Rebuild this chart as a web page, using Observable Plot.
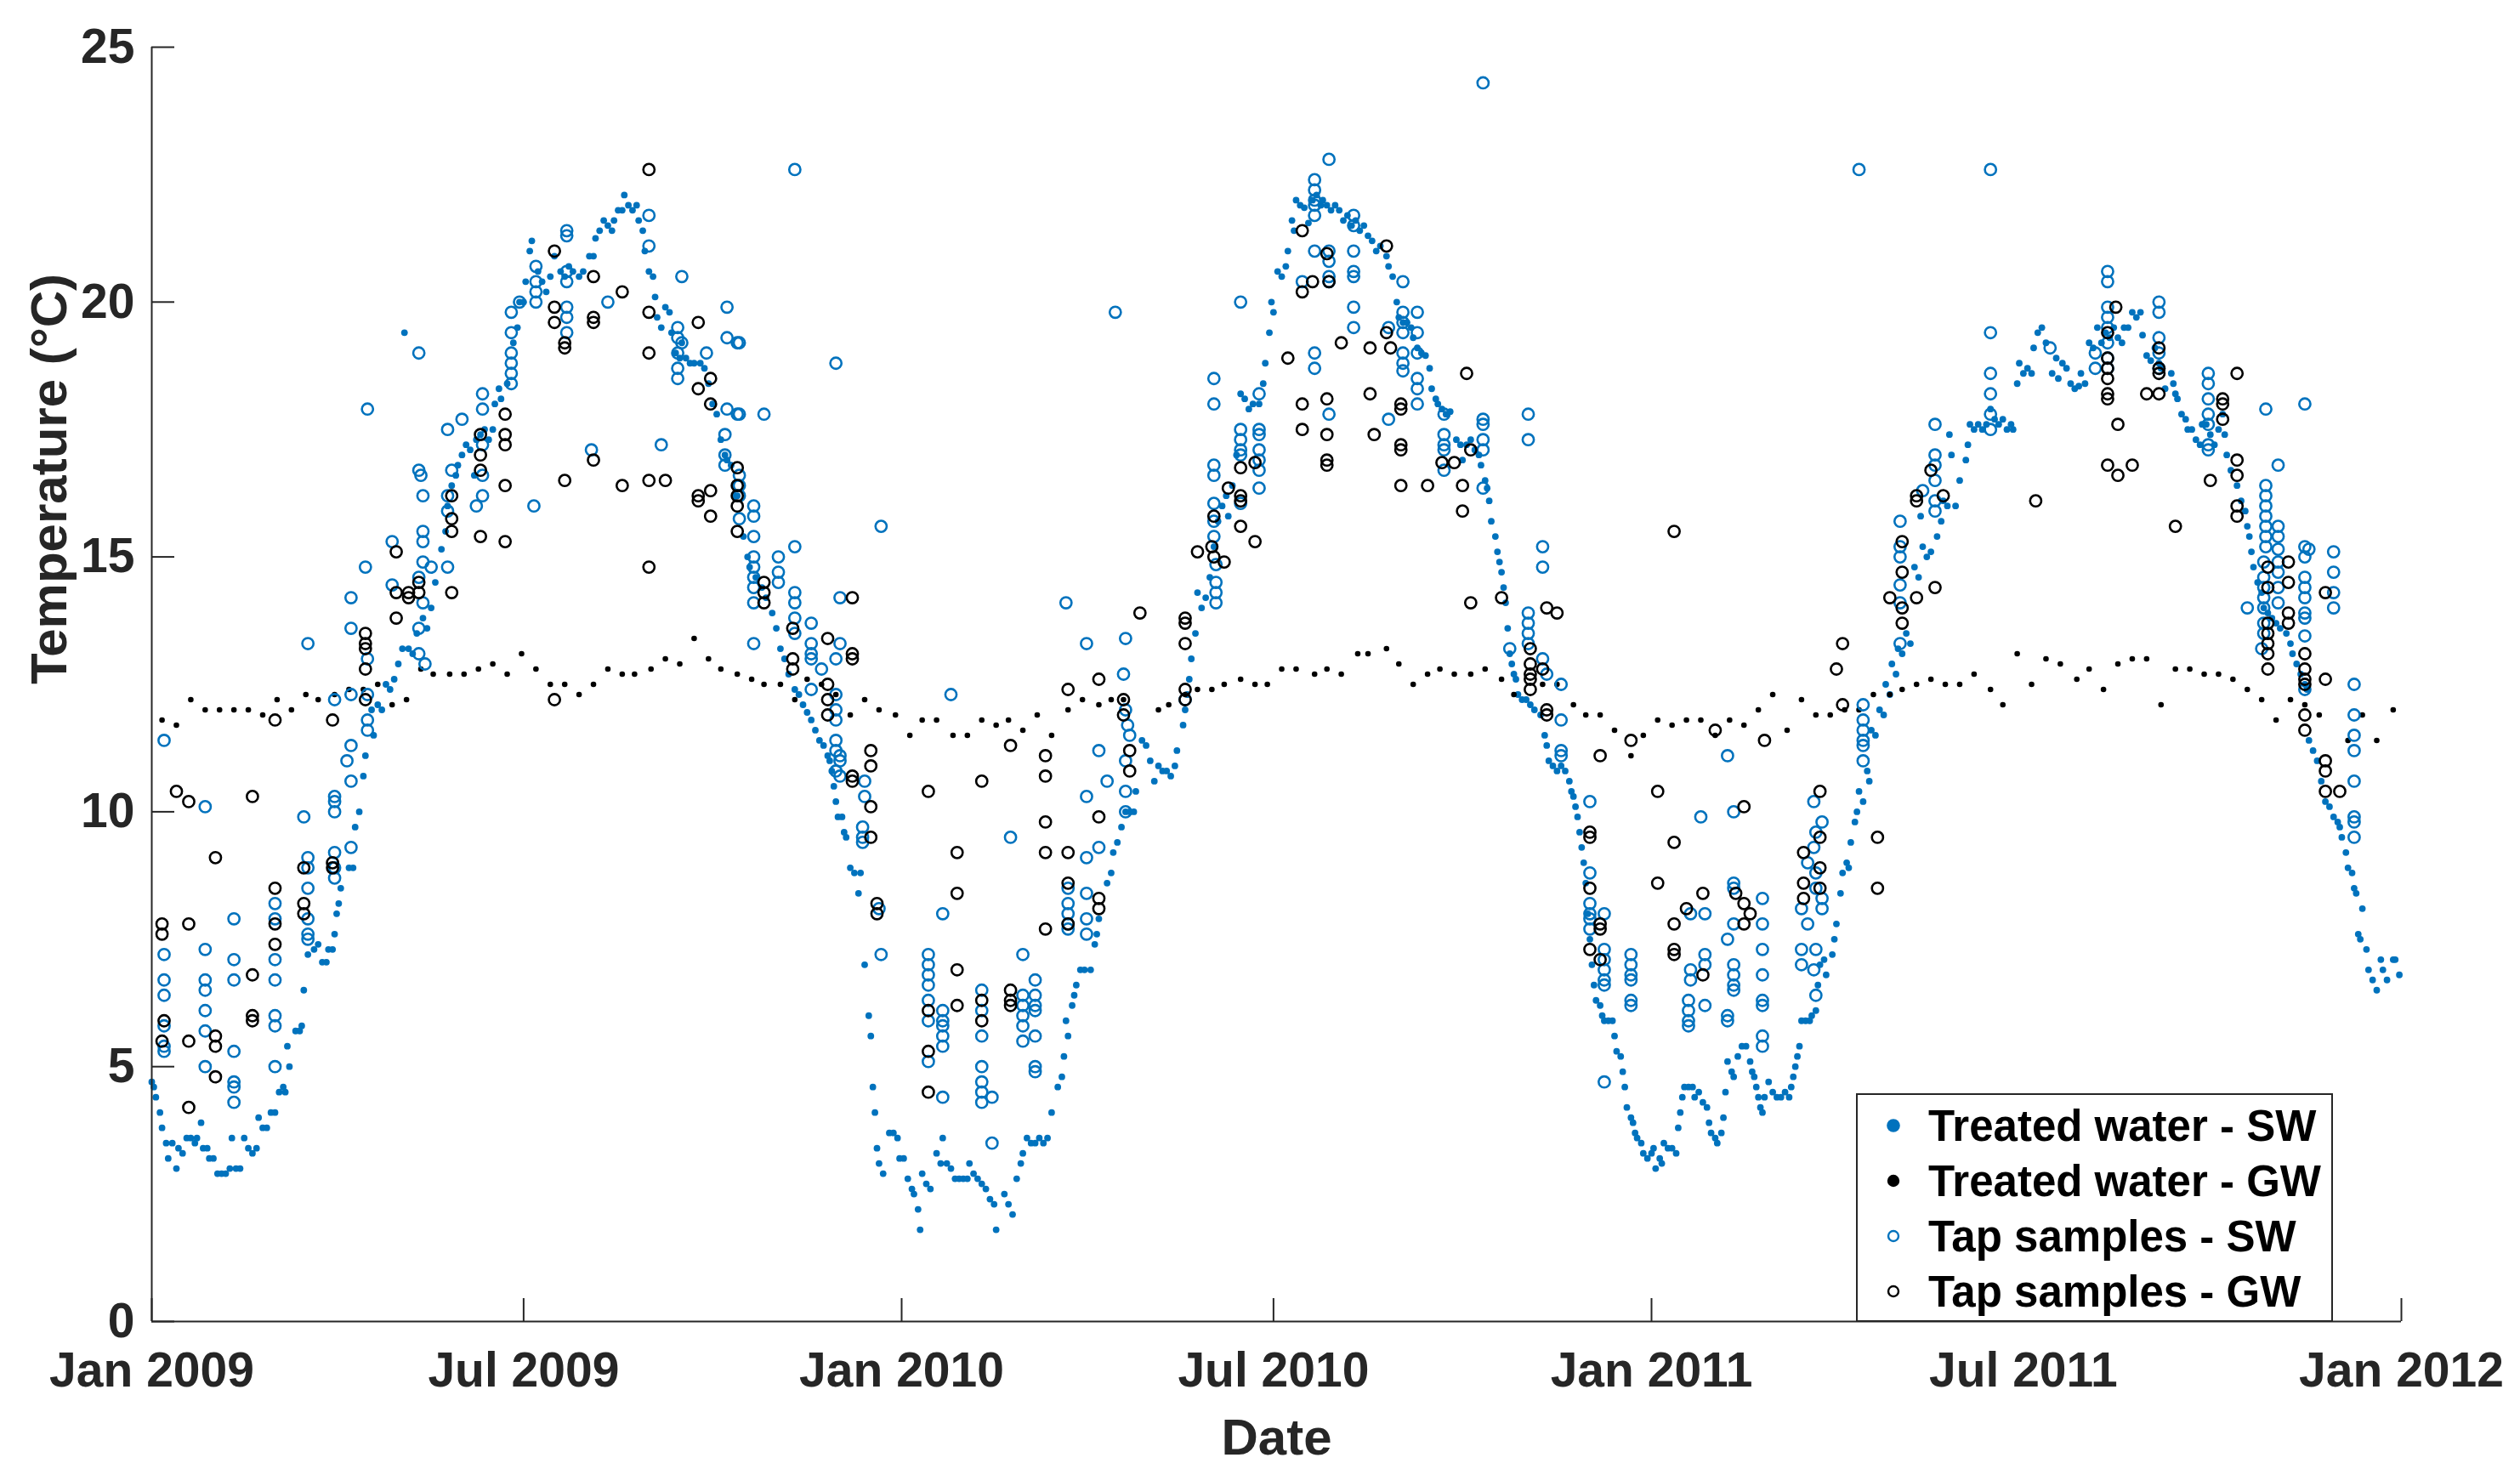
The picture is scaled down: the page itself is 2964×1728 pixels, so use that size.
<!DOCTYPE html>
<html><head><meta charset="utf-8">
<script src="https://cdn.jsdelivr.net/npm/d3@7"></script>
<script src="https://cdn.jsdelivr.net/npm/@observablehq/plot@0.6"></script>
<style>
html,body{margin:0;padding:0;background:#fff;overflow:hidden;}
svg{display:block;}
</style></head><body><div id="chart"></div>
<script>
// ---------- data ----------
const startDate = "2009-01-01"; // day 0 of the day offsets below
const xTickDates = ["2009-01-01","2009-07-01","2010-01-01","2010-07-01","2011-01-01","2011-07-01","2012-01-01"];
const xTickLabels = ["Jan 2009","Jul 2009","Jan 2010","Jul 2010","Jan 2011","Jul 2011","Jan 2012"];
const yTicks = [0,5,10,15,20,25];
const yTickLabels = ["0","5","10","15","20","25"];
const seriesNames = ["Treated water - SW","Treated water - GW","Tap samples - SW","Tap samples - GW"];
const xLabel = "Date";
const yLabel = "Temperature (°C)";

// [day offset, °C]
const treatedSW = [[0,4.7],[1,4.6],[2,4.4],[4,4.1],[5,3.8],[7,3.5],[8,3.2],[10,3.5],[12,3.0],[13,3.4],[15,3.3],[17,3.6],[19,3.6],[21,3.5],[22,3.6],[24,3.9],[25,3.4],[27,3.4],[28,3.2],[30,3.2],[32,2.9],[34,2.9],[36,2.9],[38,3.0],[39,3.6],[41,3.0],[43,3.0],[45,3.6],[47,3.4],[49,3.3],[51,3.4],[52,4.0],[54,3.8],[56,3.8],[58,4.1],[60,4.1],[62,4.5],[64,4.6],[65,4.5],[66,5.4],[67,5.0],[70,5.7],[72,5.7],[73,5.8],[74,6.5],[76,7.2],[79,7.3],[81,7.4],[83,7.05],[85,7.05],[86,7.3],[88,7.3],[89,7.6],[90,8.0],[91,8.2],[92,8.5],[96,8.9],[98,8.9],[99,9.7],[101,10.0],[103,10.7],[104,11.1],[107,12.0],[108,11.5],[110,12.1],[112,12.0],[114,12.5],[116,12.4],[118,12.6],[120,12.9],[122,13.2],[123,19.4],[125,13.2],[127,13.1],[129,13.5],[132,13.8],[134,13.6],[136,14.0],[138,14.5],[141,15.15],[143,15.5],[144,16.0],[146,16.4],[148,16.6],[149,16.8],[151,17.0],[153,17.2],[155,17.1],[157,16.6],[158,17.3],[160,17.4],[162,17.5],[164,17.3],[166,17.5],[167,18.0],[169,18.3],[170,18.1],[173,18.4],[176,19.2],[178,19.5],[179,20.0],[181,20.0],[182,20.4],[184,21.0],[185,21.2],[188,20.6],[190,20.4],[192,20.2],[194,20.5],[196,20.9],[199,20.6],[201,20.5],[203,20.7],[205,20.6],[208,20.5],[210,20.6],[213,20.9],[215,20.9],[216,21.25],[218,21.4],[220,21.6],[222,21.5],[224,21.4],[225,21.6],[227,21.8],[229,21.8],[230,22.1],[232,21.9],[234,21.8],[236,21.9],[237,21.6],[239,21.4],[240,21.0],[242,20.6],[244,20.5],[245,20.1],[246,19.7],[248,19.5],[250,19.9],[252,19.8],[253,19.4],[255,19.0],[257,18.9],[258,19.2],[260,18.9],[262,18.8],[264,18.8],[267,18.8],[269,18.7],[271,18.4],[273,18.0],[275,17.8],[277,17.3],[279,17.0],[280,16.9],[282,16.8],[285,16.2],[288,15.4],[290,15.0],[291,14.8],[294,14.6],[297,14.4],[299,14.2],[302,13.9],[304,13.6],[306,13.2],[308,13.0],[310,12.7],[313,12.4],[315,12.3],[317,12.1],[319,11.95],[321,11.8],[323,11.6],[325,11.4],[327,11.3],[329,11.1],[330,11.0],[331,10.8],[332,10.5],[333,10.2],[334,9.9],[336,9.9],[337,9.6],[338,9.5],[340,8.9],[342,8.8],[344,8.4],[345,8.8],[347,7.0],[349,6.0],[350,5.6],[351,4.6],[352,4.1],[353,3.4],[354,3.1],[356,2.9],[359,3.7],[361,3.7],[363,3.6],[364,3.2],[366,3.2],[368,2.8],[370,2.6],[371,2.5],[373,2.2],[374,1.8],[375,2.9],[377,2.7],[379,2.6],[382,3.3],[384,3.1],[385,3.6],[387,3.1],[389,3.0],[391,2.8],[393,2.8],[395,2.8],[397,2.8],[398,3.1],[400,2.9],[402,2.8],[404,2.7],[406,2.6],[408,2.4],[410,2.3],[411,1.8],[415,2.5],[417,2.3],[419,2.1],[421,2.8],[423,3.1],[424,3.3],[426,3.6],[428,3.5],[430,3.5],[432,3.6],[434,3.5],[436,3.6],[438,4.1],[441,4.6],[443,4.8],[444,5.2],[445,5.9],[446,5.6],[448,6.2],[449,6.4],[450,6.6],[452,6.9],[454,6.9],[457,6.9],[459,7.4],[460,7.6],[461,7.9],[465,8.6],[467,8.8],[468,9.2],[470,9.4],[472,9.7],[474,10.0],[476,10.0],[478,10.0],[479,10.4],[482,11.4],[484,11.3],[486,11.0],[488,10.6],[490,10.9],[492,10.8],[494,10.8],[496,10.7],[498,10.9],[499,11.2],[502,11.7],[503,12.0],[504,12.3],[505,12.6],[506,13.0],[508,13.5],[509,14.3],[511,14.0],[513,14.2],[515,14.6],[517,15.2],[519,15.7],[521,16.0],[523,16.2],[524,15.8],[526,16.4],[528,17.0],[530,18.2],[532,18.1],[534,17.9],[536,18.0],[539,18.0],[541,18.4],[542,18.8],[544,19.4],[545,20.0],[546,19.8],[548,20.6],[550,20.5],[552,20.7],[553,21.0],[555,21.6],[556,21.4],[557,22.0],[559,21.9],[561,21.85],[563,21.55],[565,22.0],[567,22.1],[569,21.9],[570,22.0],[572,21.9],[574,21.8],[576,21.9],[578,21.8],[580,21.6],[582,21.7],[584,21.5],[586,21.6],[588,21.4],[590,21.5],[592,21.3],[594,21.2],[596,21.0],[598,21.1],[601,20.9],[602,20.7],[604,20.5],[606,20.0],[607,19.7],[609,19.6],[611,19.6],[613,19.5],[614,19.3],[616,19.1],[618,19.0],[620,18.95],[622,18.7],[623,18.3],[625,18.1],[626,18.0],[628,17.9],[630,17.8],[632,17.85],[635,17.3],[637,17.2],[638,16.9],[640,17.2],[642,17.3],[644,17.1],[646,17.0],[647,16.8],[649,16.5],[650,16.35],[651,16.1],[652,15.7],[654,15.4],[655,15.1],[656,14.9],[657,14.7],[658,14.4],[659,14.1],[660,13.6],[661,13.1],[662,12.9],[663,12.7],[664,12.6],[665,12.3],[667,12.2],[669,12.2],[671,12.1],[673,12.0],[676,11.9],[678,11.5],[679,11.3],[680,11.0],[682,10.9],[684,10.8],[686,10.9],[688,10.8],[690,10.6],[691,10.4],[692,10.3],[693,10.1],[694,9.9],[695,9.6],[696,9.3],[697,9.0],[698,8.6],[699,8.0],[700,7.5],[701,7.0],[702,6.6],[703,6.3],[705,6.2],[706,6.0],[707,5.9],[709,5.9],[711,5.9],[712,5.6],[713,5.3],[715,5.2],[716,4.9],[717,4.6],[718,4.2],[720,4.0],[721,3.9],[722,3.7],[723,3.6],[725,3.5],[726,3.3],[728,3.2],[730,3.3],[731,3.4],[732,3.0],[734,3.2],[735,3.1],[736,3.5],[738,3.4],[740,3.4],[742,3.3],[743,3.8],[744,4.1],[745,4.4],[746,4.6],[748,4.6],[750,4.6],[751,4.4],[753,4.5],[755,4.3],[757,4.2],[758,3.9],[759,3.7],[761,3.6],[762,3.5],[764,3.7],[765,4.0],[766,4.5],[767,5.1],[769,4.9],[770,4.8],[772,5.2],[774,5.4],[776,5.4],[778,5.1],[779,4.9],[780,4.8],[781,4.6],[782,4.4],[783,4.2],[784,4.1],[785,4.4],[787,4.7],[789,4.5],[791,4.4],[793,4.4],[795,4.5],[797,4.4],[798,4.6],[799,4.8],[800,5.0],[801,5.2],[802,5.4],[803,5.9],[805,5.9],[807,5.9],[808,6.0],[810,6.1],[811,6.6],[812,7.0],[814,7.1],[815,6.8],[818,7.2],[819,7.5],[820,7.8],[822,8.4],[823,8.8],[825,9.0],[826,8.9],[827,9.4],[829,9.8],[830,10.0],[831,10.4],[833,10.2],[835,10.8],[836,10.6],[837,11.6],[839,11.5],[841,12.0],[843,11.9],[844,12.5],[846,12.3],[847,12.9],[849,12.7],[850,13.2],[852,13.1],[854,13.5],[856,13.3],[858,14.8],[860,14.6],[861,15.8],[862,15.2],[864,15.0],[866,15.1],[869,15.4],[871,15.7],[872,16.1],[874,16.0],[875,17.4],[876,17.0],[878,16.0],[880,16.5],[883,16.9],[884,17.2],[885,17.6],[887,17.5],[889,17.6],[891,17.5],[893,17.6],[895,17.9],[897,17.7],[899,17.6],[901,17.7],[903,17.5],[905,17.6],[906,17.5],[908,18.4],[909,18.8],[911,18.6],[913,18.7],[915,18.6],[916,19.1],[918,19.4],[920,19.5],[922,19.2],[925,18.6],[927,18.9],[928,18.5],[930,18.8],[932,18.7],[934,18.4],[936,18.3],[938,18.35],[939,18.6],[941,18.4],[943,19.2],[945,19.1],[947,19.5],[949,19.2],[951,19.4],[953,19.3],[955,19.5],[957,19.3],[959,19.2],[960,19.5],[962,19.5],[964,19.8],[966,19.7],[968,19.8],[969,19.35],[971,18.95],[973,18.85],[975,19.1],[977,18.8],[978,18.7],[980,18.3],[983,18.6],[984,18.4],[985,18.2],[986,18.1],[988,17.8],[990,17.7],[991,17.5],[993,17.5],[995,17.3],[997,17.2],[998,17.6],[1000,17.6],[1002,17.4],[1004,17.2],[1006,17.5],[1008,17.8],[1009,17.4],[1010,17.0],[1012,16.7],[1015,16.4],[1017,16.1],[1019,15.9],[1020,15.6],[1021,15.4],[1022,15.1],[1023,14.8],[1025,14.5],[1027,14.3],[1028,14.0],[1030,13.9],[1032,13.8],[1034,13.7],[1036,13.6],[1039,13.5],[1041,13.3],[1042,13.1],[1044,12.9],[1046,12.7],[1048,12.5],[1049,12.4],[1050,11.4],[1052,11.2],[1054,11.0],[1056,10.6],[1058,10.2],[1060,10.1],[1062,9.9],[1064,9.8],[1065,9.7],[1066,9.5],[1068,9.2],[1069,8.9],[1071,8.8],[1072,8.5],[1073,8.4],[1074,7.6],[1075,7.5],[1076,8.1],[1078,7.3],[1079,6.9],[1081,6.7],[1083,6.5],[1085,7.1],[1086,6.9],[1088,6.7],[1091,7.1],[1092,7.1],[1094,6.8]];

const treatedGW = [[5,11.8],[12,11.7],[19,12.2],[26,12.0],[33,12.0],[40,12.0],[47,12.0],[54,11.9],[61,12.2],[68,12.0],[75,12.3],[81,12.2],[89,12.3],[96,12.4],[103,12.4],[110,12.5],[117,12.1],[124,12.2],[131,12.8],[137,12.7],[145,12.7],[152,12.7],[159,12.8],[166,12.9],[173,12.7],[180,13.1],[187,12.8],[194,12.5],[201,12.5],[208,12.3],[215,12.5],[222,12.8],[229,12.7],[235,12.7],[243,12.8],[250,13.0],[257,12.9],[264,13.4],[271,13.0],[277,12.8],[285,12.7],[292,12.6],[298,12.5],[306,12.5],[313,12.2],[319,12.6],[326,12.5],[333,12.3],[340,11.9],[347,12.2],[354,12.0],[362,11.9],[369,11.5],[375,11.8],[382,11.8],[390,11.5],[397,11.5],[404,11.8],[411,11.7],[417,11.8],[424,11.6],[431,11.9],[438,11.5],[446,12.0],[453,12.2],[461,12.1],[467,12.2],[473,12.2],[490,12.0],[495,12.1],[503,12.3],[509,12.4],[516,12.4],[522,12.5],[530,12.6],[537,12.5],[543,12.5],[550,12.8],[557,12.8],[566,12.7],[572,12.8],[579,12.7],[587,13.1],[592,13.1],[601,13.2],[607,12.9],[614,12.5],[621,12.7],[627,12.8],[634,12.7],[642,12.7],[649,12.8],[657,12.6],[663,12.3],[677,12.5],[684,12.5],[692,12.1],[698,11.9],[705,11.9],[712,11.6],[720,11.1],[726,11.5],[733,11.8],[740,11.7],[747,11.8],[754,11.8],[761,11.5],[768,11.8],[775,11.7],[782,12.0],[789,12.3],[796,11.6],[803,12.2],[810,11.9],[817,11.9],[824,12.0],[831,12.0],[838,12.3],[846,12.3],[852,12.4],[859,12.5],[866,12.6],[873,12.5],[880,12.5],[887,12.7],[895,12.4],[901,12.1],[908,13.1],[915,12.5],[922,13.0],[929,12.9],[937,12.6],[943,12.8],[950,12.4],[957,12.9],[964,13.0],[971,13.0],[978,12.1],[985,12.8],[992,12.8],[999,12.7],[1006,12.7],[1013,12.6],[1020,12.4],[1027,12.2],[1034,11.8],[1041,12.2],[1048,12.1],[1055,11.9],[1069,11.4],[1076,11.9],[1083,11.4],[1091,12.0]];

const tapSW = [[6,11.4],[26,10.1],[74,9.9],[89,10.3],[89,10.2],[89,10.0],[97,11.3],[95,11.0],[97,10.6],[89,12.2],[97,12.3],[105,13.0],[105,12.3],[105,11.8],[105,11.6],[130,13.1],[133,12.9],[76,9.1],[76,8.9],[76,8.5],[89,9.2],[89,8.9],[89,8.7],[97,9.3],[76,7.9],[76,7.6],[76,7.5],[6,7.2],[6,6.7],[6,6.4],[6,5.8],[6,5.4],[6,5.3],[26,7.3],[26,6.7],[26,6.5],[26,6.1],[26,5.7],[26,5.0],[40,7.9],[40,7.1],[40,6.7],[40,5.3],[40,4.7],[40,4.6],[40,4.3],[60,8.2],[60,7.9],[60,7.1],[60,6.7],[60,6.0],[60,5.8],[60,5.0],
[76,13.3],[97,14.2],[97,13.6],[104,14.8],[105,17.9],[117,15.3],[117,14.45],[130,19.0],[130,16.7],[131,16.6],[132,16.2],[132,15.5],[132,15.3],[132,14.9],[136,14.8],[130,14.6],[132,14.1],[130,13.6],[144,17.5],[144,16.2],[144,15.9],[144,14.8],[146,16.7],[151,17.7],[161,18.2],[161,17.9],[161,17.2],[161,16.6],[161,16.2],[158,16.0],[175,19.8],[175,19.4],[175,19.0],[175,18.8],[175,18.6],[175,18.4],[179,20.0],[187,20.7],[187,20.4],[187,20.2],[187,20.0],[186,16.0],[202,21.4],[202,21.3],[202,20.6],[202,20.4],[202,19.9],[202,19.7],[202,19.4],[214,17.1],[222,20.0],[242,21.7],[242,21.1],[258,20.5],[248,17.2],[256,19.5],[256,19.3],[256,19.0],[256,18.7],[256,18.5],[258,19.2],[270,19.0],[280,19.9],[280,19.3],[280,17.9],[279,17.4],[279,17.0],[279,16.8],[285,19.2],[285,17.8],
[313,22.6],[286,19.2],[333,18.8],[286,17.8],[298,17.8],[286,16.6],[286,16.4],[286,16.2],[293,16.0],[293,15.8],[286,15.75],[293,15.4],[313,15.2],[305,15.0],[293,15.0],[293,14.8],[305,14.7],[305,14.5],[293,14.6],[293,14.4],[293,14.1],[313,14.3],[313,14.1],[313,13.8],[313,13.5],[321,13.7],[293,13.3],[335,14.2],[335,13.3],[321,13.3],[355,15.6],[469,19.8],[445,14.1],[455,13.3],[474,13.4],[530,20.0],[517,18.5],[517,18.0],[530,17.5],[530,17.3],[530,17.1],[530,17.0],[539,18.2],[539,17.5],[539,17.4],[539,17.1],[539,16.9],[539,16.7],[539,16.35],[517,16.8],[517,16.6],[517,16.05],[517,15.7],[517,15.4],[518,14.85],[518,14.5],[518,14.3],[518,14.1],[530,16.05],
[321,13.1],[321,13.0],[326,12.8],[333,13.0],[321,12.4],[333,12.3],[333,12.0],[333,11.8],[333,11.4],[333,11.2],[335,11.1],[335,11.0],[333,10.8],[335,10.7],[347,10.6],[347,10.3],[346,9.7],[346,9.5],[346,9.4],[354,8.1],[355,7.2],[389,12.3],[385,8.0],[378,7.2],[378,7.0],[378,6.8],[378,6.6],[378,6.3],[378,5.9],[385,6.1],[385,5.9],[385,5.8],[385,5.6],[385,5.4],[378,5.1],[385,4.4],[404,6.5],[404,6.1],[404,5.6],[404,5.0],[404,4.7],[404,4.5],[404,4.3],[409,4.4],[409,3.5],[418,9.5],[424,7.2],[424,6.4],[424,6.2],[424,6.0],[424,5.8],[424,5.5],[430,6.7],[430,6.4],[430,6.2],[430,6.1],[430,5.6],[430,5.0],[430,4.9],[446,8.5],[446,8.2],[446,8.0],[446,7.8],[446,7.7],[455,10.3],[455,9.1],[455,8.4],[455,7.9],[455,7.6],[461,11.2],[461,9.3],[465,10.6],[473,12.7],[474,12.0],[475,11.7],[476,11.5],[474,11.0],[474,10.4],[474,10.0],[503,12.2],
[648,24.3],[573,22.8],[566,22.4],[566,22.2],[566,22.0],[566,21.9],[566,21.7],[585,21.7],[585,21.5],[566,21.0],[573,21.0],[573,20.8],[573,20.5],[573,20.4],[585,21.0],[585,20.6],[585,20.5],[560,20.4],[585,19.9],[585,19.5],[609,20.4],[609,19.8],[609,19.6],[609,19.4],[602,19.5],[616,19.8],[616,19.4],[609,19.0],[609,18.8],[609,18.65],[616,19.0],[616,18.5],[616,18.3],[616,18.0],[566,19.0],[566,18.7],[573,17.8],[602,17.7],[629,17.8],[648,17.7],[648,17.6],[648,17.3],[648,17.1],[629,17.4],[629,17.2],[629,17.1],[629,16.7],[670,17.8],[670,17.3],[648,16.35],[677,15.2],[677,14.8],[670,13.9],[670,13.7],[670,13.5],[670,13.3],
[661,13.2],[677,13.0],[679,12.7],[686,12.5],[686,11.8],[686,11.2],[686,11.1],[700,10.2],[700,8.8],[700,8.2],[700,8.0],[700,7.9],[700,7.7],[707,8.0],[707,7.3],[707,7.1],[707,6.9],[707,6.7],[707,6.6],[707,4.7],[720,7.2],[720,7.0],[720,6.8],[720,6.7],[720,6.3],[720,6.2],[748,6.3],[748,6.1],[748,5.9],[748,5.8],[749,6.9],[749,6.7],[749,8.0],[754,9.9],[756,8.0],[756,7.2],[756,7.0],[756,6.2],[767,11.1],[770,10.0],[770,8.6],[770,8.5],[770,7.8],[767,7.5],[770,7.0],[770,6.8],[770,6.6],[770,6.5],[767,6.0],[767,5.9],[784,8.3],[784,7.8],[784,7.3],[784,6.8],[784,6.3],[784,6.2],[784,5.6],[784,5.4],[809,10.2],[813,9.8],[810,9.6],[809,9.3],[806,9.0],[810,8.8],[810,8.5],[813,8.3],[813,8.1],[803,8.1],[806,7.8],[803,7.3],[803,7.0],[810,7.3],[809,6.9],[810,6.4],
[831,22.6],[895,22.6],[895,19.4],[895,18.6],[895,18.2],[895,17.8],[895,17.5],[868,17.6],[868,17.0],[868,16.8],[868,16.5],[862,16.3],[868,16.1],[868,15.9],[851,15.7],[851,15.2],[851,15.0],[851,14.45],[851,14.1],[851,13.3],[924,19.1],[946,19.0],[946,18.7],[952,20.6],[952,20.4],[952,19.9],[952,19.7],[952,19.5],[952,19.2],[952,18.9],[952,18.7],[977,20.0],[977,19.8],[977,19.3],[977,19.0],[977,18.7],[1001,18.6],[1001,18.4],[1001,18.1],[1001,17.8],[1001,17.6],[1001,17.2],[1001,17.1],[1029,17.9],[1048,18.0],[1035,16.8],[1029,16.4],[1029,16.2],[1029,16.0],[1029,15.8],[1029,15.6],[1029,15.4],[1029,15.2],[1035,15.6],[1035,15.4],[1035,15.15],[1035,14.9],[1028,14.9],[1028,14.6],[1028,14.4],[1028,14.2],[1028,14.0],[1028,13.7],[1028,13.5],[1035,14.7],[1035,14.4],[1035,14.1],[1020,14.0],[1048,15.2],[1048,15.0],[1050,15.15],[1048,14.6],[1048,14.4],[1048,14.2],[1048,13.9],[1048,13.8],[1048,13.45],[1062,15.1],[1062,14.7],[1062,14.3],[1062,14.0],
[833,12.1],[833,11.8],[833,11.6],[833,11.4],[833,11.3],[833,11.0],[1072,12.5],[1072,11.9],[1072,11.5],[1072,11.2],[1072,10.6],[1072,9.9],[1072,9.8],[1072,9.5],[1027,13.2],[1048,12.4]];

const tapGW = [[60,11.8],[88,11.8],[196,12.2],[104,13.2],[104,12.8],[104,12.2],[12,10.4],[18,10.2],[49,10.3],[31,9.1],[74,8.9],[88,9.0],[88,8.9],[60,8.5],[74,8.2],[74,8.0],[5,7.8],[5,7.6],[18,7.8],[60,7.8],[60,7.4],[49,6.8],[6,5.9],[49,6.0],[49,5.9],[5,5.5],[18,5.5],[31,5.6],[31,5.4],[31,4.8],[18,4.2],
[242,22.6],[196,21.0],[215,20.5],[229,20.2],[196,19.9],[196,19.6],[215,19.7],[215,19.6],[242,19.8],[266,19.6],[201,19.2],[201,19.1],[242,19.0],[272,18.5],[266,18.3],[272,18.0],[172,17.8],[160,17.4],[172,17.4],[172,17.2],[160,17.0],[160,16.7],[172,16.4],[201,16.5],[215,16.9],[229,16.4],[242,16.5],[250,16.5],[266,16.2],[266,16.1],[272,16.3],[272,15.8],[285,16.75],[285,16.4],[285,16.2],[285,16.0],[285,15.5],[146,16.2],[146,15.75],[146,15.5],[160,15.4],[172,15.3],[119,15.1],[242,14.8],[130,14.5],[130,14.3],[125,14.3],[125,14.2],[119,14.3],[146,14.3],[119,13.8],[104,13.5],[104,13.3],
[298,14.5],[298,14.3],[298,14.1],[312,13.6],[329,13.4],[341,14.2],[481,13.9],[503,13.8],[503,13.7],[503,13.3],[509,15.1],[516,15.2],[517,15.0],[522,14.9],[517,15.8],[524,16.35],[530,16.2],[530,16.1],[530,15.6],[530,16.75],[537,16.85],[537,15.3],
[312,13.0],[312,12.8],[341,13.1],[341,13.0],[329,12.5],[329,12.2],[329,11.9],[350,11.2],[350,10.9],[341,10.7],[341,10.6],[350,10.1],[350,9.5],[353,8.2],[353,8.0],[378,10.4],[392,9.2],[392,8.4],[392,6.9],[392,6.2],[378,6.1],[378,5.3],[378,4.5],[404,10.6],[404,6.3],[404,5.9],[418,11.3],[418,6.5],[418,6.3],[418,6.2],[435,11.1],[435,10.7],[435,9.8],[435,9.2],[435,7.7],[446,12.4],[446,9.2],[446,8.6],[446,7.8],[461,12.6],[461,9.9],[461,8.3],[461,8.1],[473,12.2],[473,11.9],[476,11.2],[476,10.8],[503,12.4],[503,12.2],
[560,21.4],[572,20.95],[601,21.1],[565,20.4],[573,20.4],[560,20.2],[553,18.9],[579,19.2],[593,19.1],[601,19.4],[603,19.1],[640,18.6],[560,18.0],[572,18.1],[593,18.2],[608,18.0],[608,17.9],[560,17.5],[572,17.4],[595,17.4],[608,17.2],[608,17.1],[572,16.9],[572,16.8],[628,16.85],[634,16.85],[642,17.1],[608,16.4],[621,16.4],[638,16.4],[638,15.9],[741,15.5],[642,14.1],[657,14.2],[679,14.0],[684,13.9],[823,13.3],
[671,13.2],[671,12.9],[671,12.7],[671,12.6],[671,12.4],[677,12.8],[679,12.0],[679,11.9],[705,11.1],[720,11.4],[733,10.4],[761,11.6],[785,11.4],[775,10.1],[700,9.6],[700,9.5],[741,9.4],[700,8.5],[733,8.6],[755,8.4],[747,8.1],[771,8.4],[775,8.2],[778,8.0],[775,7.8],[741,7.8],[705,7.8],[705,7.7],[700,7.3],[705,7.1],[741,7.3],[741,7.2],[755,6.8],[804,9.2],[804,8.6],[804,8.3],[812,10.4],[812,9.5],[812,8.9],[812,8.5],[820,12.8],[823,12.1],
[956,19.9],[952,19.4],[952,18.9],[952,18.7],[952,18.5],[952,18.2],[952,18.1],[957,17.6],[952,16.8],[957,16.6],[964,16.8],[971,18.2],[977,19.1],[977,18.7],[977,18.6],[977,18.2],[985,15.6],[1008,18.1],[1008,18.0],[1008,17.7],[1015,18.6],[1002,16.5],[1015,16.9],[1015,16.6],[1015,16.0],[1015,15.8],[1030,14.8],[1030,14.4],[1030,13.7],[1030,13.5],[1030,13.3],[1040,14.9],[1040,14.5],[1040,13.9],[1040,13.7],[1058,14.3],[866,16.7],[859,16.2],[859,16.1],[872,16.2],[917,16.1],[852,15.3],[852,14.7],[846,14.2],[859,14.2],[868,14.4],[852,14.0],[852,13.7],
[840,9.5],[840,8.5],[1030,13.1],[1030,12.8],[1048,13.1],[1048,12.8],[1048,12.6],[1048,12.5],[1048,11.9],[1048,11.6],[1058,12.6],[1058,11.0],[1058,10.8],[1058,10.4],[1065,10.4]];

// ---------- chart ----------
const blue = "#0072BD", ink = "#262626";
const t0 = new Date(startDate + "T00:00:00Z");
const toDate = d => d3.utcDay.offset(t0, d);
const tickDates = xTickDates.map(s => new Date(s + "T00:00:00Z"));
const W = 2964, H = 1728;
const mL = 178, mR = 140, mT = 55, mB = 174;
const frameW = W - mL - mR, frameH = H - mT - mB;
const tickLen = 27;
const font = "'Liberation Sans', Arial, Helvetica, sans-serif";

const xOf = d => toDate(d[0]), yOf = d => d[1];

const chart = Plot.plot({
  width: W, height: H,
  marginLeft: mL, marginRight: mR, marginTop: mT, marginBottom: mB,
  style: {fontFamily: font, fontWeight: "bold", background: "#fff", color: ink, overflow: "visible"},
  x: {type: "utc", domain: [t0, tickDates[tickDates.length - 1]]},
  y: {domain: [0, 25]},
  marks: [
    Plot.dot(treatedSW, {x: xOf, y: yOf, r: 3.9, fill: blue}),
    Plot.dot(treatedGW, {x: xOf, y: yOf, r: 3.3, fill: "#000"}),
    Plot.dot(tapSW, {x: xOf, y: yOf, r: 6.6, fill: "none", stroke: blue, strokeWidth: 2.6}),
    Plot.dot(tapGW, {x: xOf, y: yOf, r: 6.6, fill: "none", stroke: "#000", strokeWidth: 2.6}),
    // axis lines
    Plot.ruleX([t0], {stroke: ink, strokeWidth: 2}),
    Plot.ruleY([0], {stroke: ink, strokeWidth: 2}),
    // inward tick marks
    Plot.tickY(yTicks, {y: d => d, stroke: ink, strokeWidth: 2, insetRight: frameW - tickLen}),
    Plot.tickX(tickDates, {x: d => d, stroke: ink, strokeWidth: 2, insetTop: frameH - tickLen}),
    // tick labels
    Plot.axisY(yTicks, {tickSize: 0, tickPadding: 20, fontSize: 57, fontWeight: "bold", fill: ink,
      tickFormat: d => yTickLabels[yTicks.indexOf(d)], label: null}),
    Plot.axisX(tickDates, {tickSize: 0, tickPadding: 36, fontSize: 57, fontWeight: "bold", fill: ink,
      tickFormat: d => xTickLabels[tickDates.findIndex(t => +t === +d)], label: null}),
    // axis titles
    Plot.text([xLabel], {frameAnchor: "bottom", dy: 156, lineAnchor: "bottom", fontSize: 60, fontWeight: "bold", fill: ink}),
    Plot.text([yLabel], {frameAnchor: "left", dx: -120, rotate: -90, fontSize: 60, fontWeight: "bold", fill: ink})
  ]
});
document.getElementById("chart").appendChild(chart);

// ---------- legend ----------
const svg = d3.select(chart);
const lg = svg.append("g").attr("font-family", font).attr("font-weight", "bold").attr("text-anchor", "start");
lg.append("rect").attr("x", 2184).attr("y", 1287).attr("width", 2743 - 2184).attr("height", 1554 - 1287)
  .attr("fill", "#fff").attr("stroke", ink).attr("stroke-width", 2);
const rowY = [1324, 1389, 1454, 1519];
const styles = [
  {r: 7.8, fill: blue, stroke: "none", sw: 0},
  {r: 7.2, fill: "#000", stroke: "none", sw: 0},
  {r: 6, fill: "none", stroke: blue, sw: 2.4},
  {r: 6, fill: "none", stroke: "#000", sw: 2.4}
];
seriesNames.forEach((name, i) => {
  const s = styles[i];
  lg.append("circle").attr("cx", 2227).attr("cy", rowY[i]).attr("r", s.r)
    .attr("fill", s.fill).attr("stroke", s.stroke).attr("stroke-width", s.sw);
  lg.append("text").attr("x", 2268).attr("y", rowY[i]).attr("dy", "0.36em")
    .attr("text-anchor", "start").attr("font-size", 51).attr("fill", "#000").text(name);
});
</script>
</body></html>
